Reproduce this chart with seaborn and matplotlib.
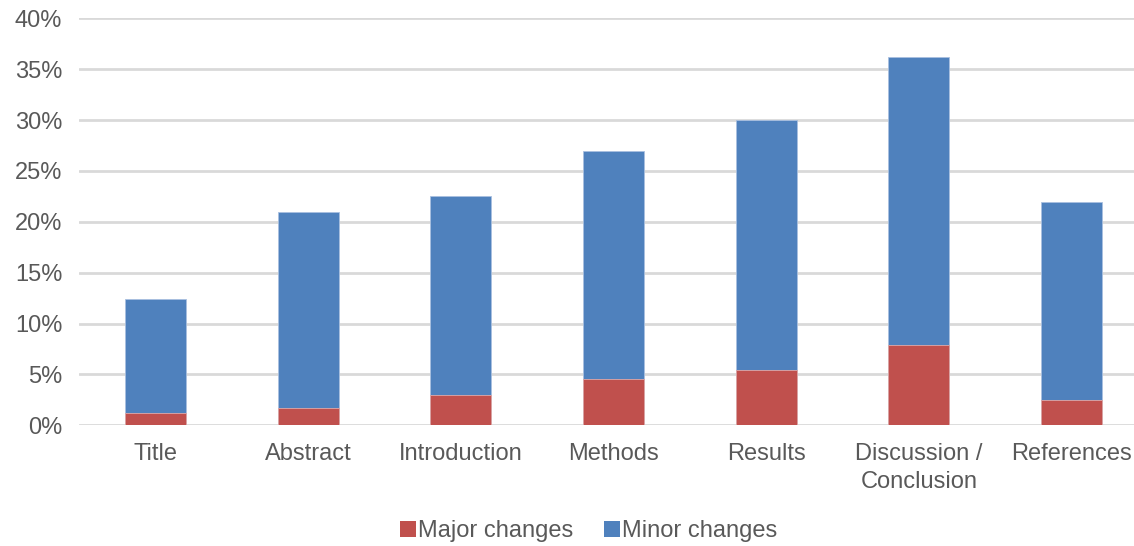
import numpy as np
import pandas as pd
import matplotlib
matplotlib.use("Agg")
import matplotlib.pyplot as plt
from matplotlib.patches import Patch
from matplotlib.ticker import FuncFormatter, MultipleLocator
import seaborn as sns

sections = ["Title", "Abstract", "Introduction", "Methods", "Results",
            "Discussion /\nConclusion", "References"]
major = [1.2, 1.7, 3.0, 4.6, 5.4, 7.9, 2.5]
minor = [11.2, 19.3, 19.5, 22.4, 24.6, 28.3, 19.4]

RED = "#C0504D"
BLUE = "#4F81BD"
TEXT = "#595959"
GRID = "#D9D9D9"

df = pd.DataFrame({"section": sections, "major": major, "minor": minor})
df["total"] = df["major"] + df["minor"]

sns.set_theme(style="white")
plt.rcParams["font.family"] = ["Liberation Sans", "DejaVu Sans"]

fig = plt.figure(figsize=(11.34, 5.46), dpi=100)
ax = fig.add_axes([79 / 1134, 0.221, (1148 - 79) / 1134, 0.7455])

# stacked columns: full height in blue, major share drawn over the base
sns.barplot(data=df, x="section", y="total", color=BLUE, width=0.4,
            saturation=1, edgecolor="#A9C0E0", linewidth=0.6, ax=ax, zorder=3)
sns.barplot(data=df, x="section", y="major", color=RED, width=0.4,
            saturation=1, edgecolor="#E0A9A8", linewidth=0.6, ax=ax, zorder=4)

ax.set_xlim(-0.5, len(sections) - 0.5)
ax.set_ylim(0, 40)
ax.yaxis.set_major_locator(MultipleLocator(5))
ax.yaxis.set_major_formatter(FuncFormatter(lambda v, _: f"{v:.0f}%"))
ax.grid(axis="y", color=GRID, linewidth=2, zorder=0)
ax.set_axisbelow(True)
for s in ax.spines.values():
    s.set_visible(False)
ax.set_xlabel("")
ax.set_ylabel("")
ax.tick_params(axis="both", length=0, labelsize=17, labelcolor=TEXT)
ax.tick_params(axis="y", pad=12)
ax.tick_params(axis="x", pad=13)
for lbl in ax.get_xticklabels():
    lbl.set_linespacing(1.32)

handles = [Patch(facecolor=RED, edgecolor="none", label="Major changes"),
           Patch(facecolor=BLUE, edgecolor="none", label="Minor changes")]
fig.legend(handles=handles, loc="center", bbox_to_anchor=(0.519, 0.027),
           ncol=2, frameon=False, fontsize=17, labelcolor=TEXT,
           handlelength=0.7, handleheight=0.7, handletextpad=0.08,
           columnspacing=1.3)

fig.savefig("out.png", dpi=100)
